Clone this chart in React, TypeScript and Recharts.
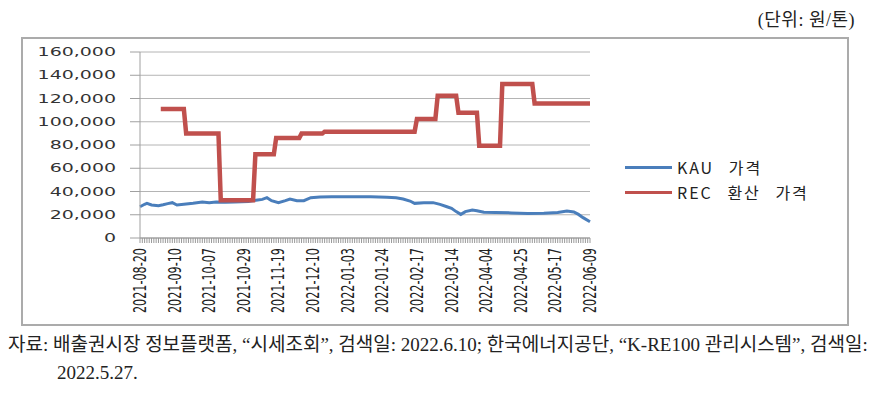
import { LineChart, Line, XAxis, YAxis, CartesianGrid, Legend } from "recharts"

// trading-day index -> shown date label every 15 days
const tickDates = [
    "2021-08-20", "2021-09-10", "2021-10-07", "2021-10-29", "2021-11-19", "2021-12-10", "2022-01-03",
    "2022-01-24", "2022-02-17", "2022-03-14", "2022-04-04", "2022-04-25", "2022-05-17", "2022-06-09",
]
const tickEvery = 15
const lastDay = 195
const yTicks = [0, 20000, 40000, 60000, 80000, 100000, 120000, 140000, 160000]

// KAU 가격 (원/톤)
const kauDay = [0, 2, 3, 5, 8, 10, 12, 14, 16, 19, 23, 27, 30, 33, 37, 41, 47, 51, 53, 55, 57, 60, 63, 65, 68, 71, 74, 78, 83, 90, 100, 107, 111, 114, 117, 119, 123, 127, 130, 133, 135, 137, 139, 141, 144, 146, 149, 154, 161, 168, 175, 181, 185, 188, 190, 192, 195]
const kauPrice = [26900, 29000, 29800, 28400, 27800, 28600, 29600, 30400, 28400, 29000, 29800, 31000, 30400, 31000, 30800, 31000, 31500, 32700, 33200, 34700, 32100, 30400, 32100, 33500, 32100, 32100, 34700, 35300, 35500, 35500, 35500, 35000, 34700, 33500, 31800, 29800, 30400, 30400, 28900, 26900, 25500, 22700, 20300, 22700, 24100, 23500, 22100, 21900, 21600, 21100, 21300, 21900, 23200, 22400, 20300, 17500, 14000]

// REC 환산 가격 (원/톤)
const recDay = [9, 19, 20, 34, 35, 49, 50, 58, 59, 69, 70, 79, 80, 119, 120, 128, 129, 137, 138, 146, 147, 156, 157, 170, 171, 195]
const recPrice = [111000, 111000, 90000, 90000, 32500, 32500, 72000, 72000, 86000, 86000, 89800, 89800, 91500, 91500, 102400, 102400, 122400, 122400, 107800, 107800, 79400, 79400, 132500, 132500, 115800, 115800]

const BLUE = "#4a7ebb"
const RED = "#c0504d"

type Row = { day: number; kau?: number; rec?: number }
const rows: Row[] = (() => {
    const m = new Map<number, Row>()
    kauDay.forEach((d, i) => m.set(d, { ...(m.get(d) ?? { day: d }), kau: kauPrice[i] }))
    recDay.forEach((d, i) => m.set(d, { ...(m.get(d) ?? { day: d }), rec: recPrice[i] }))
    return [...m.values()].sort((a, b) => a.day - b.day)
})()
const allDays = Array.from({ length: lastDay + 1 }, (_, i) => i)

const XTick = ({ x, y, payload }: any) => {
    const v = payload.value
    if (v % tickEvery !== 0) return <g />
    return (
        <text transform={`translate(${x},${y + 3}) rotate(-90) scale(1,1.6)`} textAnchor="end"
            dominantBaseline="central" fontSize={11.2} fontFamily="DejaVu Sans" fill="#222">
            {tickDates[v / tickEvery]}
        </text>
    )
}

const YTick = ({ x, y, payload }: any) => (
    <text transform={`translate(${x},${y}) scale(1.58,1)`} textAnchor="end" dominantBaseline="central"
        fontSize={12} fontFamily="DejaVu Sans" fill="#333">
        {payload.value.toLocaleString("en-US")}
    </text>
)

const LegendBox = ({ payload }: any) => (
    <div style={{ fontFamily: "'Noto Sans CJK KR'", fontSize: 16, color: "#222" }}>
        {(payload ?? []).map((p: any) => (
            <div key={p.value} style={{ display: "flex", alignItems: "center", height: 24.7 }}>
                <span style={{ width: 47, height: 3, background: p.color, marginRight: 5 }} />
                <span style={{ letterSpacing: 2, wordSpacing: 9, whiteSpace: "nowrap" }}>{p.value}</span>
            </div>
        ))}
    </div>
)

export default function App() {
    return (
        <div style={{ position: "absolute", left: 0, top: 0, width: 870, height: 400, background: "#fff" }}>
            <div style={{
                position: "absolute", right: 15, top: 9, fontSize: 18, lineHeight: "22px", letterSpacing: 0.5,
                fontFamily: "'Liberation Serif', 'Noto Sans CJK KR'", color: "#222",
            }}>(단위: 원/톤)</div>

            <div style={{
                position: "absolute", left: 21, top: 37, width: 828, height: 289, boxSizing: "border-box",
                border: "2px solid #ababab",
            }}>
                <LineChart width={824} height={285} data={rows} margin={{ top: 13, right: 257, left: 0, bottom: 0 }}>
                    <CartesianGrid horizontal vertical={false} stroke="#b4b4b4" />
                    <XAxis dataKey="day" type="number" domain={[0, lastDay]} ticks={allDays} interval={0}
                        height={86} tickSize={5} stroke="#999" tick={<XTick />} />
                    <YAxis type="number" domain={[0, 160000]} ticks={yTicks} interval={0} width={117}
                        tickSize={10} tickMargin={14} stroke="#a0a0a0" tick={<YTick />} />
                    <Legend layout="vertical" align="center" verticalAlign="middle" content={<LegendBox />}
                        wrapperStyle={{ left: 602, top: 116, width: 240 }} />
                    <Line name="KAU 가격" dataKey="kau" stroke={BLUE} strokeWidth={3} dot={false}
                        connectNulls isAnimationActive={false} />
                    <Line name="REC 환산 가격" dataKey="rec" stroke={RED} strokeWidth={4.5} dot={false}
                        connectNulls isAnimationActive={false} />
                </LineChart>
            </div>

            <div style={{
                position: "absolute", left: 8, top: 331, fontSize: 19, lineHeight: "28px", whiteSpace: "nowrap",
                fontFamily: "'Liberation Serif', 'Noto Sans CJK KR'", color: "#222",
            }}>
                <div>자료: 배출권시장 정보플랫폼, “시세조회”, 검색일: 2022.6.10; 한국에너지공단, “K-RE100 관리시스템”, 검색일:</div>
                <div style={{ paddingLeft: 49 }}>2022.5.27.</div>
            </div>
        </div>
    )
}
